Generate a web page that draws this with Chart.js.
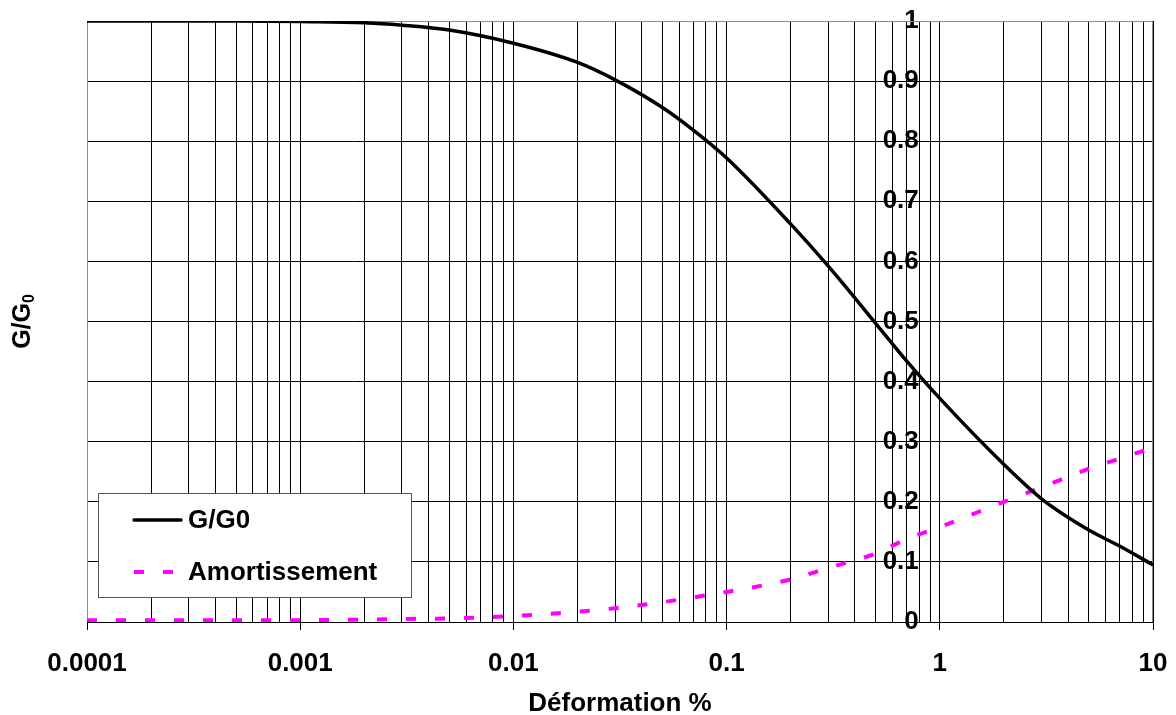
<!DOCTYPE html>
<html>
<head>
<meta charset="utf-8">
<script src="https://cdn.jsdelivr.net/npm/chart.js@4.4.0/dist/chart.umd.min.js"></script>
<style>
html, body { margin: 0; padding: 0; background: #fff; }
</style>
</head>
<body>
<canvas id="c" width="1176" height="715"></canvas>
<script>
// données
const strain = [0.0001, 0.0002, 0.0005, 0.001, 0.002, 0.003, 0.005, 0.01, 0.02, 0.03, 0.05, 0.07, 0.1, 0.2, 0.3, 0.5, 0.7, 1, 2, 3, 5, 7, 10];
const gOverG0 = [1.0, 1.0, 1.0, 0.999, 0.997, 0.993, 0.985, 0.963, 0.931, 0.902, 0.856, 0.818, 0.772, 0.662, 0.592, 0.497, 0.434, 0.372, 0.262, 0.205, 0.153, 0.126, 0.095];
const damping = [0.003, 0.003, 0.003, 0.003, 0.004, 0.005, 0.006, 0.010, 0.017, 0.023, 0.033, 0.041, 0.050, 0.071, 0.090, 0.114, 0.138, 0.158, 0.200, 0.224, 0.255, 0.272, 0.290];

const xDecades = [0.0001, 0.001, 0.01, 0.1, 1, 10];
const xTickLabels = ['0.0001', '0.001', '0.01', '0.1', '1', '10'];
const yTickValues = [0, 0.1, 0.2, 0.3, 0.4, 0.5, 0.6, 0.7, 0.8, 0.9, 1];
const yTickLabels = ['0', '0.1', '0.2', '0.3', '0.4', '0.5', '0.6', '0.7', '0.8', '0.9', '1'];

const FONT = '"Liberation Sans", Arial, sans-serif';
const boldFont = { family: FONT, size: 26, weight: 'bold', lineHeight: 1 };

// ticks log : 1..9 par décade, majeurs sur les décades
function buildXTicks() {
  const t = [];
  xDecades.forEach((d, i) => {
    if (i === xDecades.length - 1) { t.push({ value: d, major: true }); return; }
    for (let k = 1; k <= 9; k++) t.push({ value: d * k, major: k === 1 });
  });
  return t;
}

function xLabel(v) {
  const i = xDecades.findIndex(d => Math.abs(v / d - 1) < 1e-9);
  return i >= 0 ? xTickLabels[i] : '';
}

const framePlugin = {
  id: 'frame',
  beforeDatasetsDraw(chart) {
    const { ctx, chartArea: a } = chart;
    ctx.save();
    ctx.strokeStyle = '#8c8c8c';
    ctx.lineWidth = 1;
    ctx.beginPath();
    ctx.moveTo(a.left + 0.5, a.bottom);
    ctx.lineTo(a.left + 0.5, a.top + 0.5);
    ctx.lineTo(a.right - 0.5, a.top + 0.5);
    ctx.lineTo(a.right - 0.5, a.bottom);
    ctx.stroke();
    ctx.restore();
  }
};

const yTitlePlugin = {
  id: 'ytitle',
  afterDraw(chart) {
    const { ctx, chartArea: a } = chart;
    const cy = (a.top + a.bottom) / 2;
    ctx.save();
    ctx.translate(30, cy);
    ctx.rotate(-Math.PI / 2);
    ctx.fillStyle = '#000';
    ctx.textBaseline = 'alphabetic';
    ctx.font = 'bold 25px ' + FONT;
    const main = 'G/G';
    const w1 = ctx.measureText(main).width;
    ctx.font = 'bold 16px ' + FONT;
    const w2 = ctx.measureText('0').width;
    const x0 = -(w1 + w2) / 2;
    ctx.font = 'bold 25px ' + FONT;
    ctx.fillText(main, x0, 0);
    ctx.font = 'bold 16px ' + FONT;
    ctx.fillText('0', x0 + w1, 4);
    ctx.restore();
  }
};

const legendPlugin = {
  id: 'boxLegend',
  afterDraw(chart) {
    const ctx = chart.ctx;
    ctx.save();
    ctx.fillStyle = '#fff';
    ctx.fillRect(98, 493, 313, 104);
    ctx.strokeStyle = '#555';
    ctx.lineWidth = 1;
    ctx.strokeRect(98.5, 493.5, 313, 104);
    const rows = [520, 572];
    chart.data.datasets.forEach((ds, i) => {
      const y = rows[i];
      ctx.strokeStyle = ds.borderColor;
      ctx.lineWidth = ds.borderWidth;
      ctx.lineCap = ds.borderDash ? 'butt' : 'round';
      ctx.setLineDash(ds.borderDash || []);
      ctx.beginPath();
      ctx.moveTo(134, y);
      ctx.lineTo(ds.borderDash ? 173 : 181, y);
      ctx.stroke();
      ctx.setLineDash([]);
      ctx.fillStyle = '#000';
      ctx.font = 'bold 26px ' + FONT;
      ctx.textBaseline = 'middle';
      ctx.fillText(ds.label, 188, y + 1);
    });
    ctx.restore();
  }
};

new Chart(document.getElementById('c'), {
  type: 'line',
  data: {
    datasets: [
      {
        label: 'G/G0',
        data: strain.map((s, i) => ({ x: s, y: gOverG0[i] })),
        borderColor: '#000',
        borderWidth: 3.5,
        pointRadius: 0,
        cubicInterpolationMode: 'monotone',
        fill: false
      },
      {
        label: 'Amortissement',
        data: strain.map((s, i) => ({ x: s, y: damping[i] })),
        borderColor: '#ff00ff',
        borderWidth: 4,
        borderDash: [10, 19],
        pointRadius: 0,
        cubicInterpolationMode: 'monotone',
        fill: false
      }
    ]
  },
  options: {
    responsive: false,
    devicePixelRatio: 1,
    animation: false,
    layout: { padding: { left: 87, right: 23, top: 21, bottom: 0 } },
    plugins: { legend: { display: false }, tooltip: { enabled: false } },
    scales: {
      x: {
        type: 'logarithmic',
        min: xDecades[0],
        max: xDecades[xDecades.length - 1],
        afterBuildTicks: s => { s.ticks = buildXTicks(); },
        afterFit: s => { s.height = 93; s.paddingLeft = 0; s.paddingRight = 0; },
        grid: {
          color: '#000',
          lineWidth: 1,
          tickLength: 8,
          tickColor: c => (c.tick && c.tick.major) ? '#000' : 'rgba(0,0,0,0)'
        },
        border: { color: '#000', width: 1 },
        ticks: {
          autoSkip: false,
          maxRotation: 0,
          minRotation: 0,
          padding: 21,
          color: '#000',
          font: boldFont,
          callback: v => xLabel(v)
        },
        title: {
          display: true,
          text: 'Déformation %',
          color: '#000',
          font: boldFont,
          padding: { top: 0, bottom: -2 }
        }
      },
      y: {
        type: 'linear',
        // axe placé juste à gauche de x=1 pour que les libellés finissent avant la ligne
        position: { x: 0.797 },
        min: 0,
        max: 1,
        afterBuildTicks: s => { s.ticks = yTickValues.map(v => ({ value: v })); },
        afterFit: s => { s.paddingTop = 0; s.paddingBottom = 0; },
        grid: { color: '#000', lineWidth: 1, tickLength: 8, drawTicks: false },
        border: { display: false },
        ticks: {
          padding: 0,
          color: '#000',
          font: boldFont,
          callback: (v, i) => yTickLabels[i]
        }
      }
    }
  },
  plugins: [framePlugin, yTitlePlugin, legendPlugin]
});
</script>
</body>
</html>
